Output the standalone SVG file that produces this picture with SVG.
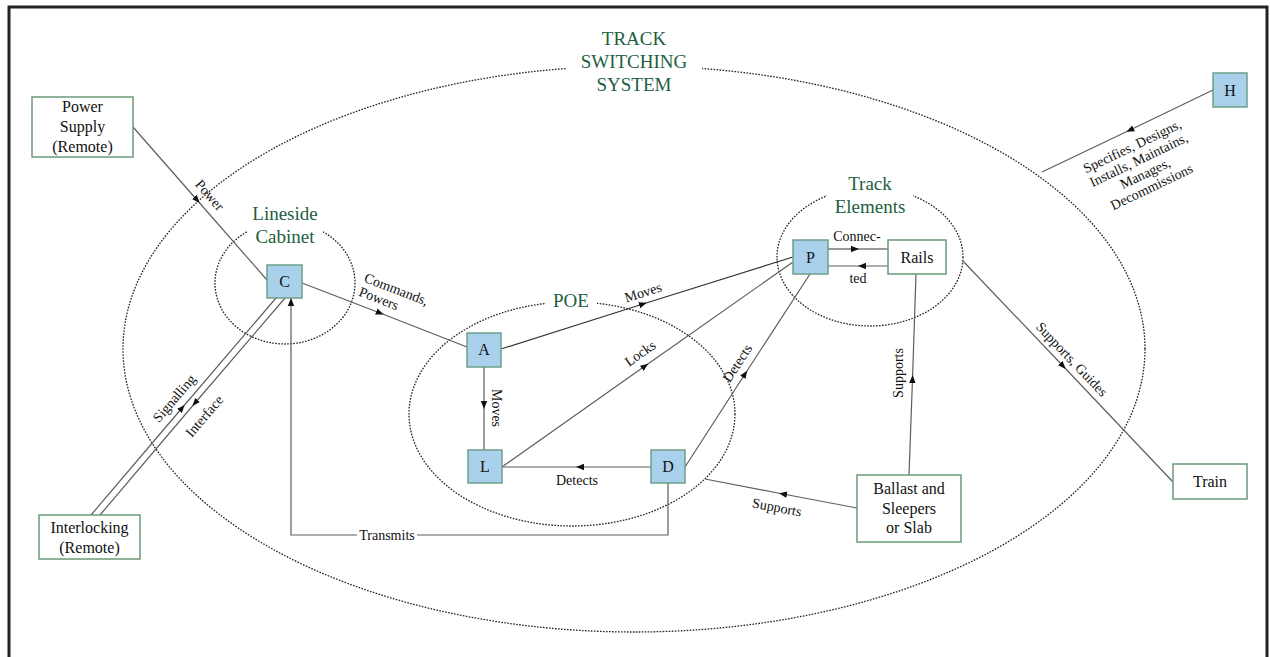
<svg xmlns="http://www.w3.org/2000/svg" width="1270" height="657" viewBox="0 0 1270 657">
<style>
text{font-family:"Liberation Serif","Times New Roman",serif;fill:#111}
.lbl{font-size:14px;text-anchor:middle}
.box{font-size:16px;text-anchor:middle}
.grp{font-size:19px;text-anchor:middle;fill:#22603e}
.dot{fill:none;stroke:#222;stroke-width:1.3;stroke-dasharray:1.6 1.4}
.bn{fill:#a9d1ec;stroke:#6f9f88;stroke-width:1.5}
.wn{fill:#fff;stroke:#6a9a78;stroke-width:1.5}
.ln{fill:none;stroke:#5e5e5e;stroke-width:1.2}
.gap{fill:#fff}
</style>
<defs>
<marker id="am" viewBox="0 0 10 10" refX="5" refY="5" markerWidth="8" markerHeight="8" markerUnits="userSpaceOnUse" orient="auto"><path d="M0,1 L10,5 L0,9 z" fill="#111"/></marker>
<marker id="ae" viewBox="0 0 10 10" refX="10" refY="5" markerWidth="8" markerHeight="8" markerUnits="userSpaceOnUse" orient="auto"><path d="M0,1 L10,5 L0,9 z" fill="#111"/></marker>
</defs>
<rect x="0" y="0" width="1270" height="657" fill="#fff"/>
<rect x="9" y="7" width="1258" height="665" fill="none" stroke="#222" stroke-width="3"/>

<g id="system">
<ellipse class="dot" cx="634" cy="349" rx="511" ry="283"/>
<rect class="gap" x="567" y="25" width="135" height="70"/>
<text class="grp" x="634" y="45">TRACK</text>
<text class="grp" x="634" y="68">SWITCHING</text>
<text class="grp" x="634" y="91">SYSTEM</text>
</g>
<g id="lineside">
<ellipse class="dot" cx="285" cy="283" rx="70" ry="61"/>
<rect class="gap" x="247" y="200" width="76" height="42"/>
<text class="grp" x="285" y="220">Lineside</text>
<text class="grp" x="285" y="243">Cabinet</text>
</g>
<g id="poe">
<ellipse class="dot" cx="572" cy="414" rx="163" ry="112"/>
<rect class="gap" x="546" y="288" width="51" height="24"/>
<text class="grp" x="571" y="307">POE</text>
</g>
<g id="track-elements">
<ellipse class="dot" cx="870" cy="257" rx="93" ry="69"/>
<rect class="gap" x="827" y="168" width="86" height="32"/>
<text class="grp" x="870" y="190">Track</text>
<text class="grp" x="870" y="213">Elements</text>
</g>

<g id="connectors">
<path class="ln" d="M133,127 L197,200 L267,280" marker-mid="url(#am)"/>
<text class="lbl" transform="translate(210,195) rotate(48.8)" y="5">Power</text>
<path class="ln" d="M302,283 L380,313 L467,347" marker-mid="url(#am)"/>
<g transform="translate(394,288) rotate(21)">
<text class="lbl" style="text-anchor:start" x="-31" y="5">Commands,</text>
<text class="lbl" style="text-anchor:start" x="-31" y="20">Powers</text>
</g>
<path class="ln" d="M91,515 L182,408 L276,298" marker-mid="url(#am)"/>
<text class="lbl" transform="translate(174,398) rotate(-49.5)" y="5">Signalling</text>
<path class="ln" d="M285,298 L195,403 L100,515" marker-mid="url(#am)"/>
<text class="lbl" transform="translate(204,416) rotate(-49.5)" y="5">Interface</text>
<path class="ln" d="M668,483 L668,535 L417,535 M357,535 L291,535 L291,298" marker-end="url(#ae)"/>
<text class="lbl" x="387" y="540">Transmits</text>
<path class="ln" d="M484,367 L484,405 L484,450" marker-mid="url(#am)"/>
<text class="lbl" transform="translate(497,408) rotate(90)" y="5">Moves</text>
<path class="ln" d="M501,349 L643,304 L793,257" marker-mid="url(#am)" style="stroke:#333"/>
<text class="lbl" transform="translate(643,292) rotate(-17.5)" y="5">Moves</text>
<path class="ln" d="M502,467 L645,366 L793,262" marker-mid="url(#am)"/>
<text class="lbl" transform="translate(640,353) rotate(-35.1)" y="5">Locks</text>
<path class="ln" d="M651,467 L580,467 L502,467" marker-mid="url(#am)"/>
<text class="lbl" x="577" y="485">Detects</text>
<path class="ln" d="M685,467 L745,374 L810,274" marker-mid="url(#am)"/>
<text class="lbl" transform="translate(737,363) rotate(-57)" y="5">Detects</text>
<path class="ln" d="M828,249 L855,249 L888,249" marker-mid="url(#am)" style="stroke:#333"/>
<path class="ln" d="M888,266 L862,266 L828,266" marker-mid="url(#am)"/>
<text class="lbl" x="857" y="241">Connec-</text>
<text class="lbl" x="858" y="283">ted</text>
<path class="ln" d="M909,475 L912.5,379 L916,274" marker-mid="url(#am)"/>
<text class="lbl" transform="translate(898,373) rotate(-90)" y="5">Supports</text>
<path class="ln" d="M857,508 L783,494 L705,479" marker-mid="url(#am)"/>
<text class="lbl" transform="translate(777,507) rotate(10.8)" y="5">Supports</text>
<path class="ln" d="M962,260 L1063,366 L1173,482" marker-mid="url(#am)"/>
<text class="lbl" transform="translate(1072,359) rotate(46.4)" y="5">Supports, Guides</text>
<path class="ln" d="M1213,90 L1130,130 L1042,172" marker-mid="url(#am)"/>
<g transform="translate(1132,146) rotate(-25.6)">
<text class="lbl" y="5">Specifies, Designs,</text>
<text class="lbl" y="20">Installs, Maintains,</text>
<text class="lbl" y="35">Manages,</text>
<text class="lbl" y="50">Decommissions</text>
</g>
</g>

<g id="power-supply"><rect class="wn" x="32" y="97" width="101" height="60"/>
<text class="box" x="82.5" y="112">Power</text><text class="box" x="82.5" y="132">Supply</text><text class="box" x="82.5" y="152">(Remote)</text></g>
<g id="interlocking"><rect class="wn" x="39" y="515" width="101" height="44"/>
<text class="box" x="89.5" y="533">Interlocking</text><text class="box" x="89.5" y="553">(Remote)</text></g>
<g id="node-c"><rect class="bn" x="267" y="265" width="35" height="33"/><text class="box" x="284.5" y="287">C</text></g>
<g id="node-a"><rect class="bn" x="467" y="333" width="34" height="34"/><text class="box" x="484" y="355">A</text></g>
<g id="node-l"><rect class="bn" x="468" y="450" width="34" height="33"/><text class="box" x="485" y="472">L</text></g>
<g id="node-d"><rect class="bn" x="651" y="450" width="34" height="33"/><text class="box" x="668" y="472">D</text></g>
<g id="node-p"><rect class="bn" x="793" y="240" width="35" height="34"/><text class="box" x="810.5" y="263">P</text></g>
<g id="rails"><rect class="wn" x="888" y="240" width="58" height="34"/><text class="box" x="917" y="263">Rails</text></g>
<g id="node-h"><rect class="bn" x="1213" y="73" width="34" height="34"/><text class="box" x="1230" y="96">H</text></g>
<g id="train"><rect class="wn" x="1173" y="464" width="74" height="35"/><text class="box" x="1210" y="487">Train</text></g>
<g id="ballast"><rect class="wn" x="857" y="475" width="104" height="67"/>
<text class="box" x="909" y="494">Ballast and</text><text class="box" x="909" y="514">Sleepers</text><text class="box" x="909" y="533">or Slab</text></g>
</svg>
